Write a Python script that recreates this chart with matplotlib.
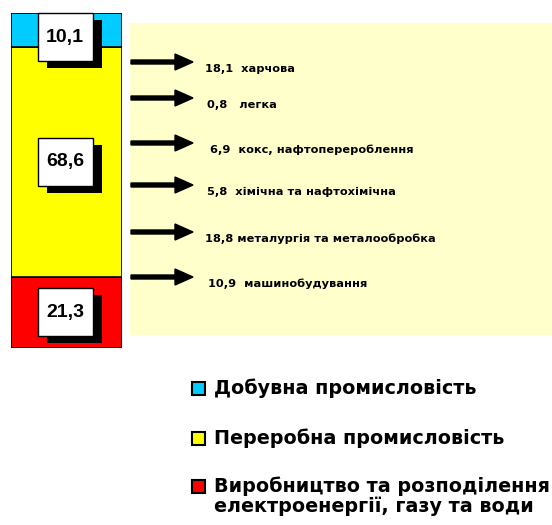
import matplotlib.pyplot as plt
import matplotlib.patches as mpatches
import matplotlib.transforms as mtransforms

plt.rcParams['font.family'] = ['Liberation Sans', 'DejaVu Sans']
plt.rcParams['font.weight'] = 'bold'

# структура промисловості, %
galuzi = ['Добувна промисловість', 'Переробна промисловість',
          'Виробництво та розподілення\nелектроенергії, газу та води']
chastky = [10.1, 68.6, 21.3]
kolory = ['#00CCFF', '#FFFF00', '#FF0000']

# переробна промисловість по галузях, %
pidgaluzi = ['харчова', 'легка', 'кокс, нафтоперероблення',
             'хімічна та нафтохімічна', 'металургія та металообробка',
             'машинобудування']
pidchastky = ['18,1', '0,8', '6,9', '5,8', '18,8', '10,9']
probily = ['  ', '   ', '  ', '  ', ' ', '  ']

W, H = 552, 525
fig = plt.figure(figsize=(W / 100, H / 100), dpi=100)

# фонова панель, стрілки, підписи, легенда - у піксельних координатах
lay = fig.add_axes([0, 0, 1, 1])
lay.set_xlim(0, W)
lay.set_ylim(H, 0)
lay.axis('off')

lay.add_patch(mpatches.Rectangle((130, 23), W - 130, 312, facecolor='#FFFFCC',
                                 edgecolor='none', zorder=0))

strilky_y = [62, 98, 143, 185, 232, 277]
tekst_x = [205, 207, 210, 207, 205, 208]
for i, (val, name) in enumerate(zip(pidchastky, pidgaluzi)):
    y = strilky_y[i]
    lay.add_patch(mpatches.FancyArrow(131, y, 62, 0, width=4, head_width=16,
                                      head_length=18, length_includes_head=True,
                                      color='black', zorder=2))
    lay.text(tekst_x[i], y + 7, val + probily[i] + name, fontsize=8.2,
             family='DejaVu Sans', va='center', ha='left', color='black')

# легенда
leg_y = [388, 438, 486]
for i, (name, c) in enumerate(zip(galuzi, kolory)):
    y = leg_y[i]
    lay.add_patch(mpatches.Rectangle((192, y - 6.5), 13, 13, facecolor=c,
                                     edgecolor='black', linewidth=1.5))
    lay.text(214, y - 10, name, fontsize=13.8, family='DejaVu Sans',
             va='top', ha='left', linespacing=1.05, color='black')

# стовпчик
ax = fig.add_axes([11 / W, (H - 348) / H, 111 / W, 335 / H])
ax.set_xlim(-0.5, 0.5)
ax.set_ylim(0, 100)
ax.axis('off')

poriadok = [2, 1, 0]  # знизу вгору
niz = 0
for k in poriadok:
    ax.bar(0, chastky[k], width=1, bottom=niz, color=kolory[k],
           edgecolor='black', linewidth=1.2)
    tsentr = niz + chastky[k] / 2
    tsentr = min(tsentr, 100 - 7.3)
    t = fig.dpi_scale_trans + mtransforms.ScaledTranslation(0, tsentr, ax.transData)
    ax.add_patch(mpatches.Rectangle((-0.2, -0.31), 0.55, 0.48, transform=t,
                                    facecolor='black', edgecolor='none', zorder=3,
                                    clip_on=False))
    ax.add_patch(mpatches.Rectangle((-0.29, -0.24), 0.55, 0.48, transform=t,
                                    facecolor='white', edgecolor='black',
                                    linewidth=1, zorder=4, clip_on=False))
    ax.text(-0.29 + 0.275, 0, f'{chastky[k]:.1f}'.replace('.', ','),
            transform=t, ha='center', va='center', fontsize=14,
            color='black', zorder=5)
    niz += chastky[k]

fig.savefig('out.png', dpi=100)
